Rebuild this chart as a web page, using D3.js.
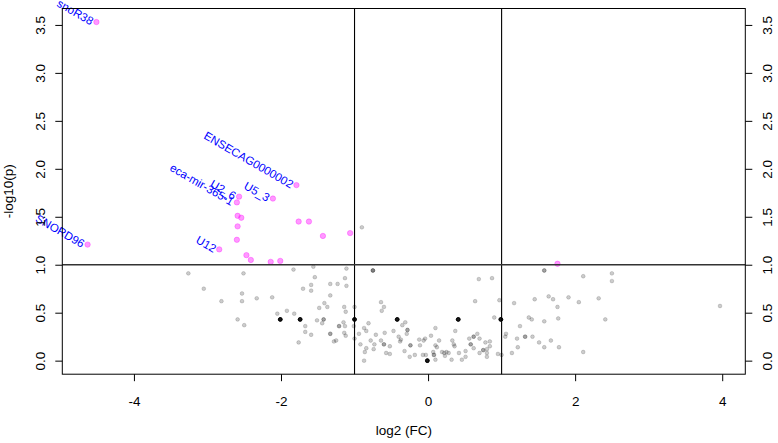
<!DOCTYPE html>
<html><head><meta charset="utf-8">
<script src="https://cdn.jsdelivr.net/npm/d3@7"></script>
<style>
html,body{margin:0;padding:0;background:#fff;}
text{font-family:"Liberation Sans",Arial,Helvetica,sans-serif;}
</style>
</head><body>
<svg id="chart" width="778" height="443"></svg>
<script>
// ---- data: non-significant points (log2 FC, -log10 p, number of coincident genes)
const nsX = [-0.90,-3.26,-2.51,-1.83,-1.56,-1.54,-3.05,-2.53,-2.81,-2.53,-2.33,-2.12,-1.70,-1.59,-1.59,-1.48,-2.05,-1.92,-1.82,-2.59,-2.50,-2.01,-1.74,-1.51,-1.67,-1.67,-1.59,-1.76,
 -1.11,-0.75,-1.33,-1.23,-1.13,-1.11,-1.33,-1.41,-1.37,-1.14,-1.12,-1.00,-0.64,-0.60,-0.63,-1.42,-1.44,-1.00,-1.15,-1.13,-1.21,-1.12,-1.33,-1.14,-1.25,-1.28,-1.01,-1.00,-0.94,-0.87,-0.84,-0.81,-0.92,-0.84,-0.86,-0.87,-0.78,-0.71,-0.73,-0.74,-0.60,-0.64,-0.59,-0.52,-0.57,-0.52,-0.42,-0.47,-0.35,-0.31,-0.28,-0.40,-0.38,-0.29,-0.37,-0.24,-0.32,-0.25,-0.18,-0.12,-0.11,-0.06,-0.07,
 0.69,0.87,0.64,0.97,1.17,0.90,0.41,0.99,1.37,1.25,0.10,0.37,-0.04,0.04,0.15,0.10,0.12,0.07,0.08,-0.03,-0.01,0.10,0.19,0.22,0.25,0.23,0.28,0.32,0.33,0.35,0.36,0.42,0.46,0.51,0.51,0.58,0.56,0.62,0.67,0.70,0.62,0.70,0.75,0.78,0.84,0.84,0.80,0.80,0.80,0.95,1.00,1.06,1.05,1.14,1.22,1.21,1.32,
 1.58,2.11,2.50,2.50,1.45,1.64,1.70,1.91,2.05,2.32,1.76,1.41,1.58,1.77,2.41,3.97,1.42,1.51,1.67,1.58,1.78,2.11];
const nsY = [1.39,0.91,0.91,0.95,0.98,0.87,0.75,0.70,0.62,0.62,0.65,0.66,0.75,0.79,0.73,0.55,0.49,0.52,0.49,0.43,0.37,0.43,0.43,0.42,0.36,0.30,0.27,0.19,
 0.96,0.94,0.80,0.80,0.86,0.78,0.68,0.60,0.56,0.56,0.51,0.56,0.61,0.56,0.52,0.43,0.39,0.43,0.40,0.36,0.36,0.26,0.28,0.29,0.21,0.20,0.36,0.23,0.28,0.34,0.31,0.39,0.17,0.13,0.09,0.00,0.21,0.27,0.17,0.12,0.17,0.21,0.29,0.15,0.08,0.07,0.43,0.31,0.37,0.40,0.32,0.25,0.20,0.28,0.22,0.16,0.10,0.04,0.06,0.22,0.16,0.21,0.06,
 0.85,0.86,0.62,0.63,0.60,0.45,0.43,0.43,0.45,0.36,0.34,0.31,0.23,0.26,0.21,0.16,0.14,0.09,0.06,0.06,0.00,0.01,0.09,0.08,0.09,0.05,0.08,0.01,0.21,0.17,0.15,0.08,0.01,0.10,0.04,0.17,0.23,0.25,0.28,0.23,0.13,0.08,0.11,0.19,0.20,0.15,0.08,0.04,0.12,0.07,0.06,0.28,0.25,0.08,0.14,0.23,0.25,
 0.94,0.88,0.91,0.83,0.64,0.67,0.64,0.66,0.61,0.65,0.56,0.43,0.41,0.44,0.43,0.57,0.25,0.19,0.21,0.14,0.14,0.09];
const nsDup = [1,1,1,1,1,1,1,1,1,1,1,1,1,1,1,1,1,1,1,1,1,10,10,1,1,1,1,1,
 1,3,1,1,1,1,1,1,1,1,1,1,1,1,1,2,1,10,1,1,2,1,2,1,1,1,1,1,1,1,1,1,1,1,1,1,1,1,1,1,2,1,1,1,1,1,10,1,1,1,2,1,1,1,1,2,1,1,1,1,1,1,1,
 1,1,1,1,1,1,10,10,1,1,1,1,1,1,1,1,1,1,2,1,10,1,1,1,1,1,1,1,1,1,1,1,1,1,1,2,1,2,1,1,1,1,2,1,1,1,1,1,1,1,1,1,1,1,1,1,2,
 2,1,1,1,1,1,1,1,1,1,1,1,1,1,1,1,1,1,1,1,1,1];

// ---- data: significant points
const sigX = [-4.51,-4.63,-1.79,-2.11,-2.57,-2.60,-2.59,-2.54,-1.76,-1.62,-2.59,-1.43,-1.06,-2.60,-2.84,-2.47,-2.41,-2.14,-2.01,1.76];
const sigY = [3.53,1.21,1.83,1.69,1.71,1.65,1.51,1.49,1.45,1.45,1.40,1.30,1.33,1.26,1.16,1.10,1.05,1.03,1.04,1.01];
const sigLabel = ["snoR38","SNORD96","ENSECAG0000002","U5_3","U2_6","eca-mir-365-1","","","","","","","","","U12","","","","",""];

// ---- axis ticks / titles
const xTicks = [-4,-2,0,2,4];
const yTicks = [0,0.5,1,1.5,2,2.5,3,3.5];
const xTitle = "log2 (FC)";
const yTitle = "-log10(p)";
const fcCut = [-1, 1];
const pCut = 1;

// ---- drawing
const svg = d3.select("#chart");
const L = 62.3, R = 745.3, T = 8.5, B = 374.2;
function rpad(e){ const d=(e[1]-e[0])*0.04; return [e[0]-d, e[1]+d]; }
const allX = nsX.concat(sigX), allY = nsY.concat(sigY);
const x = d3.scaleLinear().domain(rpad(d3.extent(allX))).range([L, R]);
const y = d3.scaleLinear().domain(rpad(d3.extent(allY))).range([B, T]);

const fs = "13.5px";

// points
const ns = [];
nsX.forEach((v,i)=>{ for(let k=0;k<nsDup[i];k++) ns.push({x:v, y:nsY[i]}); });
svg.append("g").selectAll("circle").data(ns).join("circle")
  .attr("cx", d=>x(d.x)).attr("cy", d=>y(d.y)).attr("r", 1.9)
  .attr("fill","rgba(0,0,0,0.2)").attr("stroke","rgba(0,0,0,0.2)").attr("stroke-width",0.7);

const sig = sigX.map((v,i)=>({x:v, y:sigY[i], label:sigLabel[i]}));
svg.append("g").selectAll("circle").data(sig).join("circle")
  .attr("cx", d=>x(d.x)).attr("cy", d=>y(d.y)).attr("r", 2.7)
  .attr("fill","rgba(255,0,255,0.4)").attr("stroke","rgba(255,0,255,0.4)").attr("stroke-width",0.8);

// reference lines
const lines = svg.append("g").attr("stroke","#000").attr("stroke-width",1.1);
fcCut.forEach(v=>lines.append("line").attr("x1",x(v)).attr("x2",x(v)).attr("y1",T).attr("y2",B));
lines.append("line").attr("x1",L).attr("x2",R).attr("y1",y(pCut)).attr("y2",y(pCut)).attr("stroke","#333").attr("stroke-width",1.4);

// labels
svg.append("g").selectAll("text").data(sig.filter(d=>d.label)).join("text")
  .attr("transform", d=>`translate(${x(d.x)-4},${y(d.y)}) rotate(30)`)
  .attr("text-anchor","end").attr("dominant-baseline","central")
  .attr("fill","#0000ff").style("font-size","11.5px").text(d=>d.label);

// box
svg.append("rect").attr("x",L).attr("y",T).attr("width",R-L).attr("height",B-T)
  .attr("fill","none").attr("stroke","#000").attr("stroke-width",1);

// axes
const ax = svg.append("g").attr("transform",`translate(0,${B})`)
  .call(d3.axisBottom(x).tickValues(xTicks).tickSize(7).tickFormat(d=>String(d)));
ax.select(".domain").remove();
ax.selectAll("text").attr("y",null).attr("dy",null).attr("transform","translate(0,32)").style("font-size",fs).attr("fill","#000");

const ayl = svg.append("g").attr("transform",`translate(${L},0)`)
  .call(d3.axisLeft(y).tickValues(yTicks).tickSize(7).tickFormat(d=>d.toFixed(1)));
ayl.select(".domain").remove();
ayl.selectAll("text").attr("x",null).attr("dy",null).attr("text-anchor","middle")
  .attr("transform","translate(-17,0) rotate(-90)").style("font-size",fs).attr("fill","#000");

const ayr = svg.append("g").attr("transform",`translate(${R},0)`)
  .call(d3.axisRight(y).tickValues(yTicks).tickSize(7).tickFormat(d=>d.toFixed(1)));
ayr.select(".domain").remove();
ayr.selectAll("text").attr("x",null).attr("dy",null).attr("text-anchor","middle")
  .attr("transform","translate(27,0) rotate(-90)").style("font-size",fs).attr("fill","#000");

svg.selectAll(".tick line").attr("stroke","#000");

svg.append("text").attr("x",(L+R)/2).attr("y",435).attr("text-anchor","middle")
  .style("font-size",fs).text(xTitle);
svg.append("text").attr("transform",`translate(13,${(T+B)/2}) rotate(-90)`).attr("text-anchor","middle")
  .style("font-size",fs).text(yTitle);
</script>
</body></html>
